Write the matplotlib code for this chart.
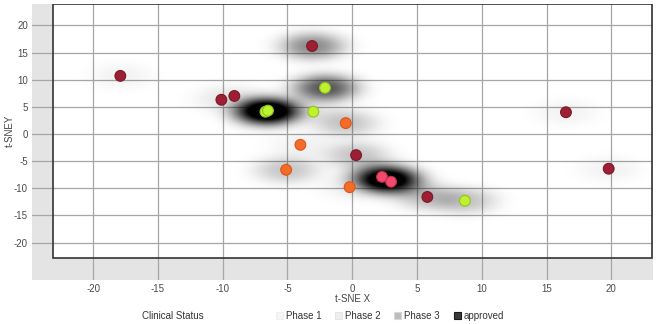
import numpy as np
import matplotlib
matplotlib.use('Agg')
import matplotlib.pyplot as plt
import matplotlib.patches as mpatches

plt.rcParams['font.family'] = ['Liberation Sans', 'DejaVu Sans']

# t-SNE coordinates, point colour group and clinical status (blob shade)
tsne_x = [-17.9, -10.1, -9.1, -6.7, -6.5, -3.0, -3.1, -2.1, -0.5, -4.0,
          0.3, -5.1, -0.2, 2.3, 3.0, 5.8, 8.7, 16.5, 19.8]
tsne_y = [10.7, 6.3, 7.0, 4.1, 4.3, 4.1, 16.2, 8.5, 2.0, -2.0,
          -3.9, -6.6, -9.8, -7.9, -8.8, -11.6, -12.3, 4.0, -6.4]
point_group = ['maroon', 'maroon', 'maroon', 'lime', 'lime', 'lime', 'maroon', 'lime',
               'orange', 'orange', 'maroon', 'orange', 'orange', 'pink', 'pink',
               'maroon', 'lime', 'maroon', 'maroon']
clinical_status = ['Phase 1', 'Phase 1', 'Phase 1', 'approved', 'approved', 'Phase 1',
                   'Phase 3', 'approved', 'Phase 2', 'Phase 1', 'Phase 2', 'Phase 2',
                   'Phase 1', 'approved', 'approved', 'Phase 2', 'Phase 2', 'Phase 1',
                   'Phase 1']
status_names = ['Phase 1', 'Phase 2', 'Phase 3', 'approved']
ticks = [-20, -15, -10, -5, 0, 5, 10, 15, 20]

# styles
fill = {'maroon': '#9c1f33', 'lime': '#bdf230', 'orange': '#f56b28', 'pink': '#f4496c'}
edge = {'maroon': '#7c1828', 'lime': '#93c21c', 'orange': '#d9561a', 'pink': '#c2304c'}
blob_alpha = {'Phase 1': 0.05, 'Phase 2': 0.22, 'Phase 3': 0.45, 'approved': 0.66}
legend_face = {'Phase 1': '#f6f6f6', 'Phase 2': '#efefef', 'Phase 3': '#bdbdbd', 'approved': '#3a3a3a'}
legend_edge = {'Phase 1': '#f0f0f0', 'Phase 2': '#e6e6e6', 'Phase 3': '#d8d8d8', 'approved': '#1a1a1a'}

xlim = (-24.72, 23.22)
ylim = (-26.9, 23.94)
inner = (-23.1, 23.15, -22.8, 23.94)  # white plotting area

fig = plt.figure(figsize=(6.56, 3.24), dpi=100)
ax = fig.add_axes([32 / 656, 1 - 280 / 324, 621 / 656, 276 / 324])
ax.set_facecolor('#e4e4e4')
ax.set_xlim(*xlim)
ax.set_ylim(*ylim)
for s in ax.spines.values():
    s.set_visible(False)

ax.add_patch(mpatches.Rectangle((inner[0], inner[2]), inner[1] - inner[0], inner[3] - inner[2],
                                facecolor='white', edgecolor='none', zorder=0.5))
for t in ticks:
    ax.axvline(t, color='#a6a6a6', lw=0.9, zorder=1)
    ax.axhline(t, color='#a6a6a6', lw=0.9, zorder=1)

# density blobs (flat-topped kernels)
gx = np.linspace(inner[0], inner[1], 700)
gy = np.linspace(inner[2], inner[3], 500)
XX, YY = np.meshgrid(gx, gy)
dens = np.zeros_like(XX)
for x, y, st in zip(tsne_x, tsne_y, clinical_status):
    r = np.sqrt(((XX - x) / 2.4) ** 2 + ((YY - y) / 2.4) ** 2)
    dens += blob_alpha[st] * np.exp(-r ** 2.5)
rgba = np.zeros(XX.shape + (4,))
rgba[..., 3] = np.clip(dens, 0, 1)
ax.imshow(rgba, extent=(inner[0], inner[1], inner[2], inner[3]), origin='lower',
          aspect='auto', interpolation='bilinear', zorder=2)

ax.add_patch(mpatches.Rectangle((inner[0], inner[2]), inner[1] - inner[0], inner[3] - inner[2],
                                facecolor='none', edgecolor='#333333', lw=1.2, zorder=3))

ax.scatter(tsne_x, tsne_y, s=60, c=[fill[g] for g in point_group],
           edgecolors=[edge[g] for g in point_group], linewidths=0.8, zorder=4)

ax.set_xticks(ticks)
ax.set_yticks(ticks)
ax.set_xticklabels([str(t) for t in ticks])
ax.set_yticklabels([str(t) for t in ticks])
ax.tick_params(length=0, labelsize=7, colors='#4a4a4a', pad=3)

fig.text(353 / 656, 1 - 299 / 324, 't-SNE X', ha='center', va='center', fontsize=7, color='#444444')
fig.text(10 / 656, 1 - 131 / 324, 't-SNEY', ha='center', va='center', rotation=90,
         fontsize=7, color='#444444')

# legend
fig.text(173 / 656, 1 - 316 / 324, 'Clinical Status', ha='center', va='center', fontsize=7, color='#333333')
legend_x = [279, 338, 397, 457]
for lx, name in zip(legend_x, status_names):
    fig.patches.append(mpatches.Rectangle(((lx - 3) / 656, 1 - 319 / 324), 7 / 656, 7 / 324,
                                          transform=fig.transFigure, facecolor=legend_face[name],
                                          edgecolor=legend_edge[name], lw=0.8))
    fig.text((lx + 7) / 656, 1 - 316 / 324, name, ha='left', va='center', fontsize=7, color='#333333')

fig.savefig('out.png', dpi=100, facecolor='white')
